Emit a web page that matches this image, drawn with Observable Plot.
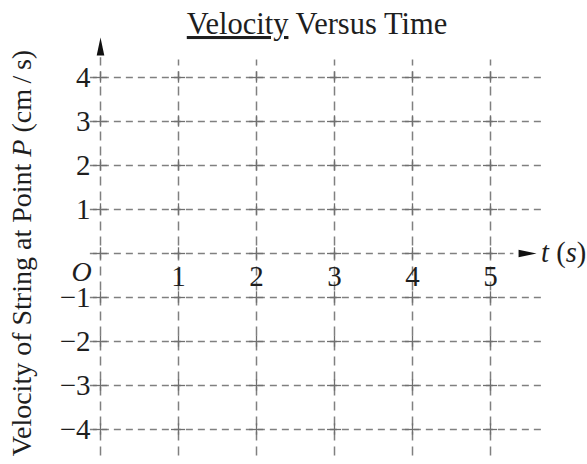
<!DOCTYPE html>
<html><head><meta charset="utf-8">
<script src="https://cdn.jsdelivr.net/npm/d3@7"></script>
<script src="https://cdn.jsdelivr.net/npm/@observablehq/plot@0.6"></script>
<style>
body{margin:0;background:#fff;}
#wrap{width:587px;height:464px;}
</style></head><body><div id="wrap"></div>
<script>
// ---- data ----
const titleMain = "Velocity";
const titleRest = " Versus Time";
const yLabelStart = "Velocity of String at Point ";
const yLabelItalic = "P";
const yLabelEnd = " (cm\u2009/\u2009s)";
const xAxisVar = "t";
const xAxisUnit = "s";
const originLabel = "O";
const xTicks = [1, 2, 3, 4, 5];
const yTicks = [-4, -3, -2, -1, 1, 2, 3, 4];
const xGrid = [0, 1, 2, 3, 4, 5];
const yGrid = [-4, -3, -2, -1, 0, 1, 2, 3, 4];
const xExtent = [-0.13, 5.7];
const yExtent = [-4.6, 4.4];
const yArrowBase = 4.5;
const xArrowBase = 5.36;

const crosses = xGrid.flatMap(x => yGrid.map(y => ({x, y})));
const font = "'Liberation Serif', 'Times New Roman', serif";
const ink = "#1e1e1e";
const gridColor = "#808080";

const arrowUp = {
  draw(ctx) {
    ctx.moveTo(0, -18);
    ctx.lineTo(3.8, 0);
    ctx.lineTo(-3.8, 0);
    ctx.closePath();
  }
};

const plot = Plot.plot({
  width: 587,
  height: 464,
  x: {domain: [0, 5], range: [100, 490], axis: null},
  y: {domain: [-4, 4], range: [429, 77], axis: null},
  style: {fontFamily: font, background: "white"},
  marks: [
    // horizontal grid lines (y = 0 is the time axis)
    Plot.ruleY(yGrid.filter(d => d !== 0), {x1: xExtent[0], x2: xExtent[1], stroke: gridColor, strokeWidth: 1.5, strokeDasharray: "7,5"}),
    Plot.ruleY([0], {x1: xExtent[0], x2: xArrowBase - 0.06, stroke: gridColor, strokeWidth: 1.5, strokeDasharray: "7,5"}),
    // vertical grid lines (x = 0 is the velocity axis)
    Plot.ruleX(xGrid.filter(d => d !== 0), {y1: yExtent[0], y2: yExtent[1], stroke: gridColor, strokeWidth: 1.5, strokeDasharray: "9,6"}),
    Plot.ruleX([0], {y1: yExtent[0], y2: yArrowBase - 0.05, stroke: gridColor, strokeWidth: 1.5, strokeDasharray: "9,6"}),
    // small solid crosses at grid intersections
    Plot.ruleX(crosses, {x: "x", y1: d => d.y - 0.13, y2: d => d.y + 0.13, stroke: "#707070", strokeWidth: 1.3}),
    Plot.ruleY(crosses, {y: "y", x1: d => d.x - 0.09, x2: d => d.x + 0.09, stroke: "#707070", strokeWidth: 1.3}),
    // arrowheads
    Plot.dot([{x: 0, y: yArrowBase}], {x: "x", y: "y", symbol: arrowUp, fill: "#111", stroke: "none"}),
    Plot.dot([{x: xArrowBase, y: 0}], {x: "x", y: "y", symbol: arrowUp, rotate: 90, fill: "#111", stroke: "none"}),
    // tick labels
    Plot.text(yTicks, {x: 0, y: d => d, text: d => d < 0 ? "\u2212" + Math.abs(d) : String(d), textAnchor: "end", dx: -10, fontSize: 29, fill: ink}),
    Plot.text(xTicks, {x: d => d, y: 0, text: d => String(d), dy: 23, fontSize: 29, fill: ink}),
    Plot.text([originLabel], {x: 0, y: 0, text: d => d, dx: -19, dy: 19, fontSize: 28, fontStyle: "italic", fill: ink})
  ]
});

const sx = plot.scale("x"), sy = plot.scale("y");
const svg = d3.select(plot);

// title with underlined first word
const t = svg.append("text")
  .attr("x", 317).attr("y", 34)
  .attr("text-anchor", "middle")
  .attr("font-family", font).attr("font-size", 30.5).attr("fill", ink);
t.append("tspan").attr("text-decoration", "underline").text(titleMain);
t.append("tspan").text(titleRest);

// rotated y-axis label
const yl = svg.append("text")
  .attr("transform", `translate(31,253) rotate(-90)`)
  .attr("text-anchor", "middle")
  .attr("font-family", font).attr("font-size", 28).attr("fill", ink);
yl.append("tspan").text(yLabelStart);
yl.append("tspan").attr("font-style", "italic").text(yLabelItalic);
yl.append("tspan").text(yLabelEnd);

// x-axis label t (s)
const xl = svg.append("text")
  .attr("x", sx.apply(xArrowBase) + 23).attr("y", sy.apply(0) + 9)
  .attr("text-anchor", "start")
  .attr("font-family", font).attr("font-size", 28.5).attr("fill", ink);
xl.append("tspan").attr("font-style", "italic").text(xAxisVar);
xl.append("tspan").text(" (");
xl.append("tspan").attr("font-style", "italic").text(xAxisUnit);
xl.append("tspan").text(")");

document.getElementById("wrap").appendChild(plot);
</script></body></html>
